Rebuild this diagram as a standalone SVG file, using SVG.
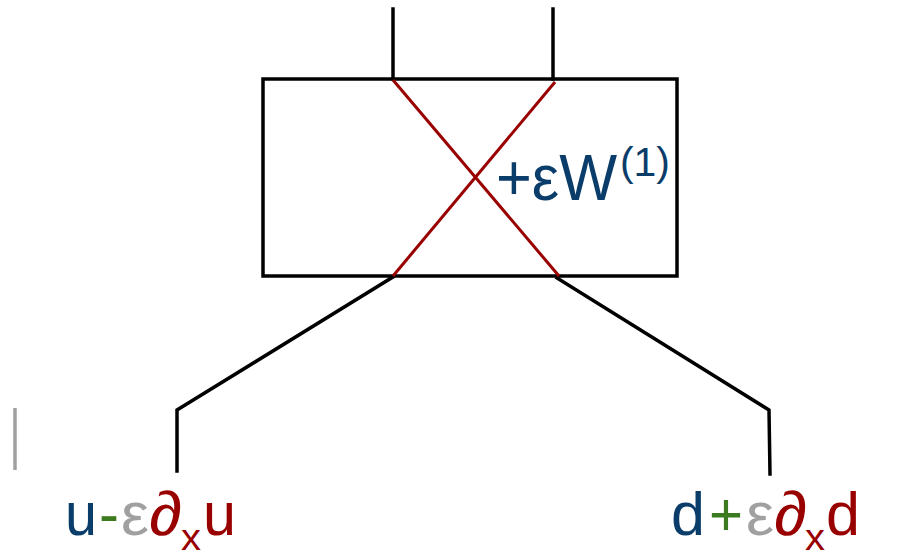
<svg xmlns="http://www.w3.org/2000/svg" width="918" height="559" viewBox="0 0 918 559">
<style>
.k{fill:none;stroke:#000;stroke-width:3.5;stroke-linecap:square;stroke-linejoin:miter}
.r{fill:none;stroke:#990000;stroke-width:3}
text{font-family:"Liberation Sans",Arial,sans-serif}
.b{fill:#0b3d6b}.rd{fill:#990000}.g{fill:#3b7a1e}.gy{fill:#a0a0a0}
</style>
<rect width="918" height="559" fill="#fff"/>
<g id="box">
<rect x="263" y="79" width="414" height="197" class="k"/>
</g>
<g id="connectors">
<line x1="393" y1="9" x2="393" y2="79" class="k"/>
<line x1="553" y1="9" x2="553" y2="79" class="k"/>
<polyline points="393,277 177,410 177,471" class="k"/>
<polyline points="557,278 769,410 770,474" class="k"/>
<line x1="393" y1="80" x2="559" y2="276" class="r"/>
<line x1="555" y1="82" x2="393" y2="276" class="r"/>
</g>
<g id="gray-mark">
<line x1="15" y1="408" x2="15" y2="470" stroke="#a0a0a0" stroke-width="3.5"/>
</g>
<g id="label-w">
<text x="496" y="200" font-size="64" class="b" textLength="121" lengthAdjust="spacingAndGlyphs">+εW</text>
<text x="620" y="176" font-size="40" class="b" textLength="50" lengthAdjust="spacingAndGlyphs">(1)</text>
</g>
<g id="label-left">
<text x="65" y="535" font-size="62" class="b" textLength="32" lengthAdjust="spacingAndGlyphs">u</text>
<text x="99" y="535" font-size="62" class="g" textLength="20" lengthAdjust="spacingAndGlyphs">-</text>
<text x="121" y="535" font-size="62" class="gy" textLength="28" lengthAdjust="spacingAndGlyphs">ε</text>
<text x="149" y="535" font-size="62" class="rd" textLength="33" lengthAdjust="spacingAndGlyphs">∂</text>
<text x="181" y="550" font-size="36" class="rd" textLength="20" lengthAdjust="spacingAndGlyphs">x</text>
<text x="203" y="535" font-size="62" class="rd" textLength="33" lengthAdjust="spacingAndGlyphs">u</text>
</g>
<g id="label-right">
<text x="671" y="535" font-size="62" class="b" textLength="34" lengthAdjust="spacingAndGlyphs">d</text>
<text x="709" y="535" font-size="62" class="g" textLength="34" lengthAdjust="spacingAndGlyphs">+</text>
<text x="746" y="535" font-size="62" class="gy" textLength="28" lengthAdjust="spacingAndGlyphs">ε</text>
<text x="774" y="535" font-size="62" class="rd" textLength="33" lengthAdjust="spacingAndGlyphs">∂</text>
<text x="805" y="550" font-size="36" class="rd" textLength="20" lengthAdjust="spacingAndGlyphs">x</text>
<text x="826" y="535" font-size="62" class="rd" textLength="34" lengthAdjust="spacingAndGlyphs">d</text>
</g>
</svg>
